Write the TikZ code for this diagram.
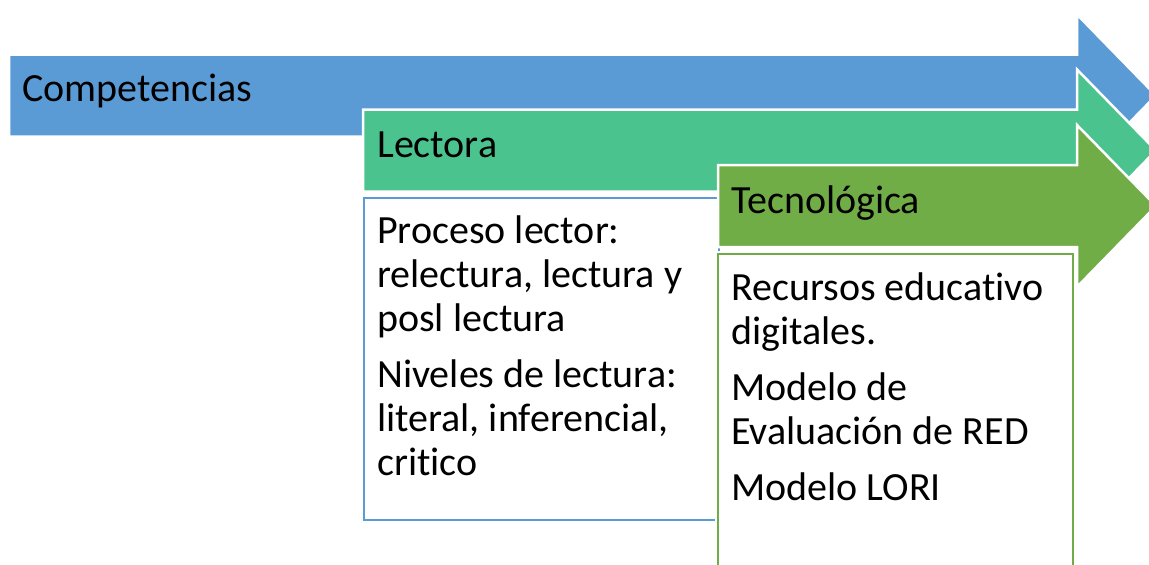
\documentclass[tikz,border=0pt]{standalone}
\usepackage{fontspec}
\setmainfont{Carlito}[Ligatures={NoCommon}]
\definecolor{cblue}{HTML}{5B9BD5}
\definecolor{cteal}{HTML}{4BC38E}
\definecolor{cgreen}{HTML}{70AD47}
\tikzset{
  arrowshape/.style={draw=white, line width=2.5pt, line join=miter},
  lbl/.style={anchor=base west, inner sep=0pt, font=\fontsize{40}{44}\selectfont},
  listbox/.style={anchor=north west, fill=white, inner sep=0pt, line width=2pt},
}
\newcommand{\myarrow}[3]{% x0, center y, colour
  \fill[#3] (#1,#2-41) -- (1077,#2-41) -- (1077,#2-81) -- (1156,#2) -- (1077,#2+81) -- (1077,#2+41) -- (#1,#2+41) -- cycle;
  \draw[arrowshape] (#1,#2-41) -- (1077,#2-41) -- (1077,#2-81) -- (1156,#2) -- (1077,#2+81) -- (1077,#2+41) -- (#1,#2+41) -- cycle;
}
\begin{document}
\begin{tikzpicture}[x=1pt,y=-1pt]
\useasboundingbox (0,0) rectangle (1149,565);
\clip (0,0) rectangle (1149,565);
\fill[white] (0,0) rectangle (1149,565);
% Competencias arrow
\myarrow{9}{95.5}{cblue}
\node[lbl] (comp) at (22,101) {Competencias};
% Lectora arrow
\myarrow{363}{150.5}{cteal}
\node[lbl] (lect) at (377,157) {Lectora};
% Lectora box
\node[listbox, draw=cblue, minimum width=355pt, minimum height=322pt] (lecbox) at (363,197) {};
\node[lbl] (lectxt) at (377,243) {\parbox[t]{330pt}{\setlength{\parskip}{12pt}\raggedright
Proceso lector:\\ relectura, lectura y\\ posl lectura\par
Niveles de lectura:\\ literal, inferencial,\\ critico}};
% Tecnologica arrow
\myarrow{718}{206}{cgreen}
\node[lbl] (tec) at (731,213) {Tecnológica};
% Tecnologica box
\draw[white, line width=5pt] (717,253) rectangle (1072,600);
\node[listbox, draw=cgreen, minimum width=355pt, minimum height=350pt] (tecbox) at (717,253) {};
\node[lbl] (tectxt) at (731,300) {\parbox[t]{340pt}{\setlength{\parskip}{12pt}\raggedright
Recursos educativo\\ digitales.\par
Modelo de\\ Evaluación de RED\par
Modelo LORI}};
\end{tikzpicture}
\end{document}
